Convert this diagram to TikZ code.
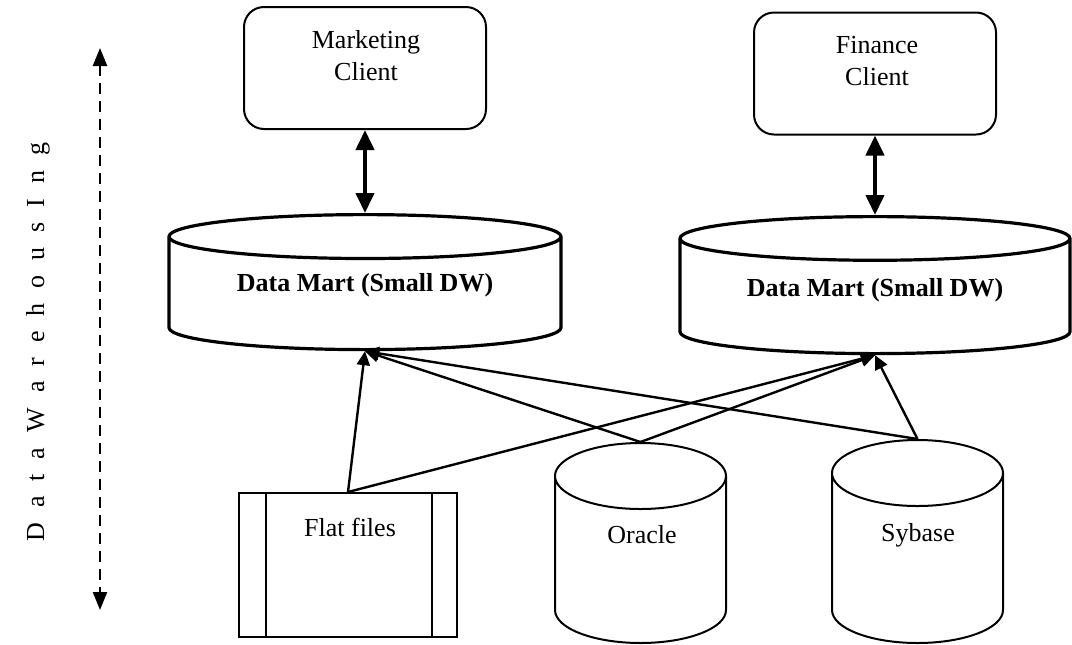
\documentclass[tikz,border=0pt]{standalone}
\usepackage{fontspec}
\setmainfont{Liberation Serif}
\usetikzlibrary{shapes.geometric, positioning, arrows.meta}
\tikzset{
	font=\fontsize{13}{16}\selectfont,
	client/.style={draw, line width=1pt, rounded corners=10pt, minimum width=121pt, minimum height=61pt},
	mart/.style={draw, cylinder, shape border rotate=90, aspect=0.112, line width=1.6pt,
		inner xsep=98pt, inner ysep=0pt, minimum height=67.5pt, anchor=north},
	dbase/.style={draw, cylinder, shape border rotate=90, aspect=0.386, line width=1pt,
		inner xsep=42.75pt, inner ysep=0pt, minimum height=100pt, anchor=north},
	flatbox/.style={draw, line width=1pt, minimum width=109pt, minimum height=72pt},
	martname/.style={font=\fontsize{13}{16}\selectfont\bfseries},
	both/.style={{Triangle[width=9pt,length=10pt]}-{Triangle[width=9pt,length=10pt]}, line width=2pt},
	feed/.style={-{Triangle[width=6.5pt,length=7pt]}, line width=1.2pt},
	span/.style={{Triangle[width=7pt,length=9pt]}-{Triangle[width=7pt,length=9pt]}, line width=1.2pt, dash pattern=on 5.5pt off 3.5pt}
}

\begin{document}
\begin{tikzpicture}[x=0.5pt, y=-0.5pt]
	\useasboundingbox (0,0) rectangle (1072,644);
	
	% clients
	\node[client] (mkt) at (365,68) {};
	\node[align=center] (mkttext) at (366,56) {Marketing\\Client};
	\node[client] (fin) at (875,73.5) {};
	\node[align=center] (fintext) at (877,61) {Finance\\Client};
	
	% data marts
	\node[mart] (dmL) at (365,213) {};
	\node[martname] (dmLtext) at (365,285) {Data Mart (Small DW)};
	\node[mart, inner xsep=97.5pt, minimum height=68.5pt] (dmR) at (875,215) {};
	\node[martname] (dmRtext) at (875,290) {Data Mart (Small DW)};
	
	\draw[both] (mkt.south) -- (dmL.north);
	\draw[both] (fin.south) -- (dmR.north);
	
	% sources
	\node[flatbox] (flat) at (348,565) {};
	\draw[line width=1pt] ([xshift=14pt]flat.north west) -- ([xshift=14pt]flat.south west);
	\draw[line width=1pt] ([xshift=-13pt]flat.north east) -- ([xshift=-13pt]flat.south east);
	\node (flattext) at (350,527) {Flat files};
	\node[dbase] (ora) at (640.5,442) {};
	\node (oratext) at (642,535) {Oracle};
	\node[dbase, minimum height=101.5pt] (syb) at (917.5,439) {};
	\node (sybtext) at (918,535) {Sybase};
	
	\draw[feed] (flat.north) -- (dmL.south);
	\draw[feed] (flat.north) -- (dmR.south);
	\draw[feed] (ora.north) -- (dmL.south);
	\draw[feed] (ora.north) -- (dmR.south);
	\draw[feed] (syb.north) -- (dmL.south);
	\draw[feed] (syb.north) -- (dmR.south);
	
	% side label
	\coordinate (spantop) at (100,48);
	\coordinate (spanbot) at (100,610);
	\draw[span] (spantop) -- (spanbot);
	\node[rotate=90] (dwtext) at (38,342) {\spaceskip=7.5pt D a t a W a r e h o u s I n g};
\end{tikzpicture}
\end{document}
